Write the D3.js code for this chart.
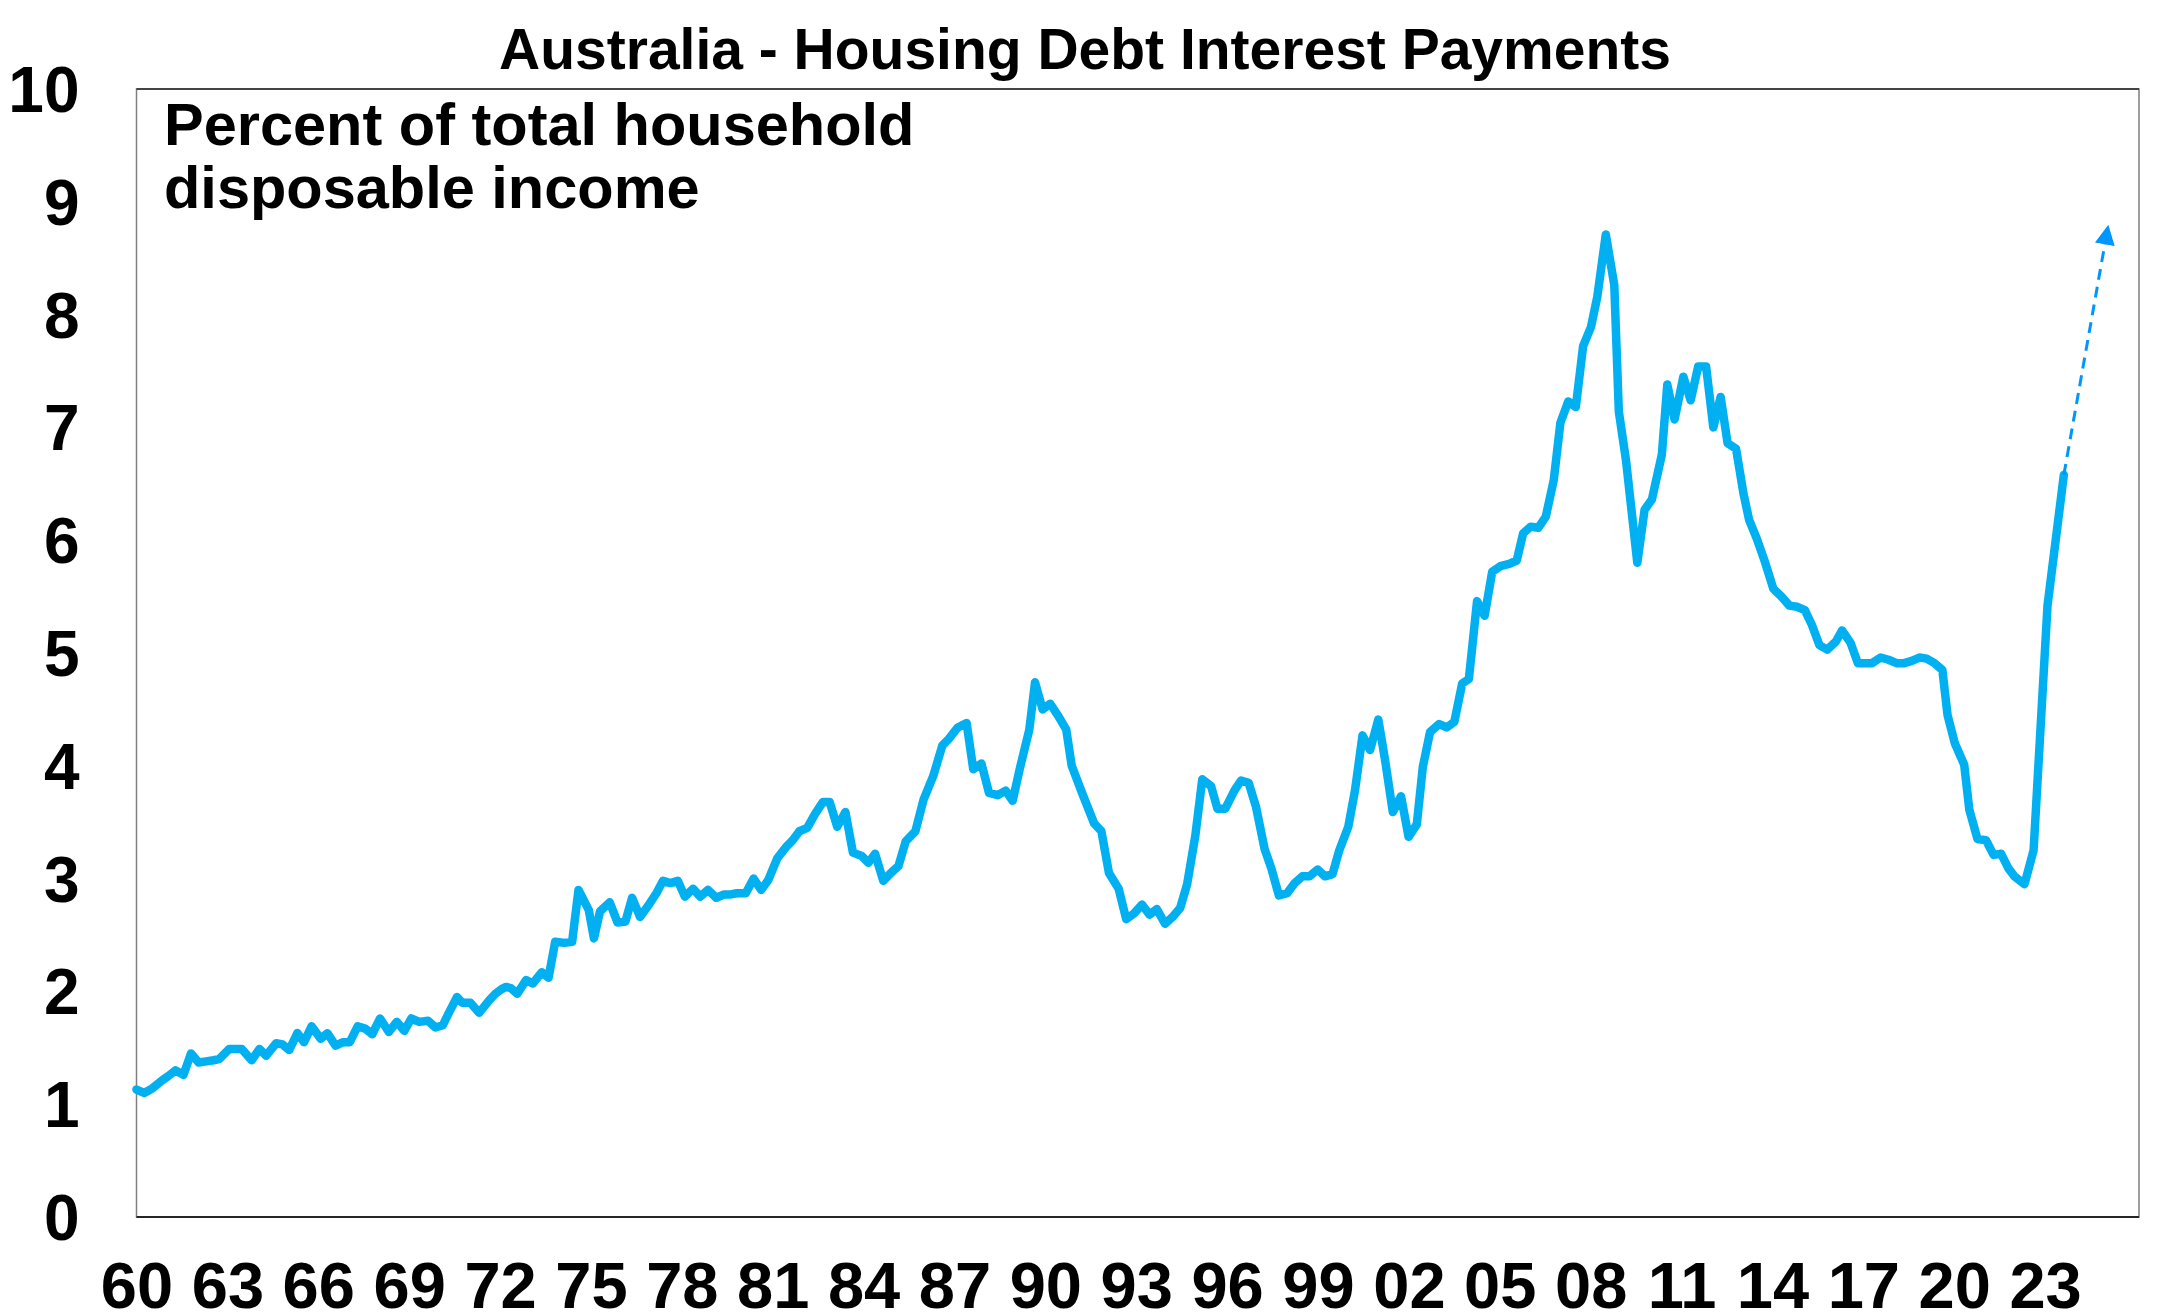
<!DOCTYPE html>
<html>
<head>
<meta charset="utf-8">
<script src="https://cdn.jsdelivr.net/npm/d3@7"></script>
<style>
  html, body { margin: 0; padding: 0; background: #ffffff; }
  svg { display: block; }
  text { font-family: "Liberation Sans", Arial, sans-serif; font-weight: bold; fill: #000; }
</style>
</head>
<body>
<svg id="chart" width="2173" height="1313"></svg>
<script>
// ---------- data ----------
const titleText = "Australia - Housing Debt Interest Payments";
const subtitleLines = ["Percent of total household", "disposable income"];

// fractional year (quarterly observations)
const years = [
  1960.00,1960.25,1960.52,1960.84,1961.05,1961.29,1961.55,1961.80,1962.05,1962.30,1962.54,1962.73,
  1963.06,1963.25,1963.47,1963.80,1964.06,1964.28,1964.61,1964.82,1965.04,1965.31,1965.53,1965.78,
  1966.08,1966.30,1966.57,1966.82,1967.04,1967.30,1967.55,1967.78,1968.04,1968.33,1968.59,1968.84,
  1969.07,1969.33,1969.62,1969.87,1970.11,1970.31,1970.58,1970.75,1971.02,1971.31,1971.64,1971.85,
  1972.05,1972.20,1972.35,1972.57,1972.86,1973.08,1973.38,1973.60,1973.82,1974.12,1974.38,1974.59,
  1974.93,1975.10,1975.30,1975.62,1975.88,1976.14,1976.36,1976.62,1976.94,1977.16,1977.38,1977.62,
  1977.87,1978.10,1978.37,1978.61,1978.86,1979.14,1979.40,1979.62,1979.81,1980.11,1980.37,1980.62,
  1980.86,1981.15,1981.44,1981.66,1981.88,1982.14,1982.39,1982.66,1982.88,1983.13,1983.40,1983.65,
  1983.94,1984.16,1984.38,1984.65,1984.90,1985.15,1985.39,1985.71,1985.98,1986.30,1986.60,1986.82,
  1987.11,1987.40,1987.62,1987.89,1988.14,1988.43,1988.69,1988.92,1989.17,1989.47,1989.66,1989.91,
  1990.16,1990.43,1990.69,1990.87,1991.24,1991.61,1991.85,1992.10,1992.42,1992.67,1992.92,1993.19,
  1993.44,1993.68,1993.95,1994.20,1994.45,1994.68,1994.95,1995.18,1995.47,1995.68,1995.94,1996.24,
  1996.46,1996.71,1996.95,1997.24,1997.46,1997.71,1997.98,1998.23,1998.48,1998.72,1998.99,1999.23,
  1999.48,1999.70,2000.00,2000.22,2000.47,2000.72,2000.99,2001.22,2001.47,2001.74,2001.99,2002.26,
  2002.46,2002.70,2003.00,2003.25,2003.50,2003.76,2003.98,2004.25,2004.50,2004.75,2005.02,2005.31,
  2005.56,2005.77,2006.02,2006.27,2006.52,2006.78,2007.00,2007.26,2007.51,2007.75,2008.01,2008.22,
  2008.50,2008.78,2008.93,2009.17,2009.54,2009.78,2010.02,2010.35,2010.53,2010.77,2011.06,2011.30,
  2011.55,2011.81,2012.05,2012.29,2012.52,2012.80,2013.04,2013.23,2013.49,2013.75,2014.03,2014.30,
  2014.56,2014.81,2015.07,2015.30,2015.55,2015.81,2016.09,2016.30,2016.58,2016.82,2017.05,2017.29,
  2017.57,2017.83,2018.10,2018.35,2018.60,2018.85,2019.09,2019.35,2019.61,2019.78,2020.02,2020.33,
  2020.50,2020.77,2021.05,2021.30,2021.55,2021.79,2021.99,2022.32,2022.62,2023.08,2023.62
];

// interest payments, % of household disposable income
const payments = [
  1.13,1.10,1.14,1.21,1.25,1.30,1.26,1.45,1.37,1.38,1.39,1.40,
  1.49,1.49,1.49,1.39,1.49,1.43,1.54,1.53,1.48,1.63,1.55,1.69,
  1.58,1.63,1.52,1.55,1.55,1.69,1.67,1.62,1.76,1.64,1.73,1.65,
  1.76,1.73,1.74,1.68,1.70,1.81,1.95,1.90,1.90,1.81,1.92,1.98,
  2.02,2.04,2.03,1.98,2.10,2.07,2.17,2.12,2.44,2.43,2.44,2.90,
  2.72,2.47,2.71,2.79,2.61,2.62,2.83,2.66,2.78,2.87,2.98,2.96,
  2.98,2.84,2.91,2.84,2.90,2.83,2.86,2.86,2.87,2.87,3.00,2.90,
  2.99,3.18,3.28,3.34,3.42,3.45,3.57,3.68,3.68,3.46,3.59,3.23,
  3.20,3.14,3.22,2.98,3.05,3.11,3.33,3.42,3.70,3.91,4.18,4.24,
  4.34,4.38,3.97,4.02,3.76,3.74,3.78,3.69,3.99,4.32,4.74,4.50,
  4.55,4.44,4.32,4.00,3.74,3.49,3.42,3.05,2.91,2.64,2.69,2.77,
  2.68,2.73,2.60,2.66,2.74,2.95,3.38,3.88,3.82,3.62,3.62,3.78,
  3.87,3.85,3.64,3.26,3.09,2.85,2.87,2.96,3.02,3.02,3.08,3.02,
  3.04,3.25,3.46,3.78,4.27,4.14,4.41,4.04,3.59,3.73,3.37,3.48,
  3.99,4.30,4.37,4.34,4.39,4.73,4.77,5.46,5.33,5.72,5.77,5.79,
  5.82,6.06,6.12,6.11,6.21,6.53,7.04,7.23,7.18,7.72,7.89,8.16,
  8.71,8.26,7.14,6.70,5.80,6.27,6.36,6.76,7.38,7.07,7.45,7.24,
  7.54,7.54,7.00,7.27,6.86,6.81,6.42,6.18,6.01,5.81,5.57,5.50,
  5.42,5.41,5.38,5.25,5.07,5.03,5.10,5.20,5.09,4.91,4.91,4.91,
  4.96,4.94,4.91,4.91,4.93,4.96,4.95,4.91,4.85,4.45,4.20,4.01,
  3.61,3.35,3.34,3.21,3.22,3.09,3.02,2.95,3.25,5.42,6.58
];

// projected path (dashed arrow)
const projYears = [2023.62, 2025.03];
const projValues = [6.58, 8.71];

const xTickYears = [1960,1963,1966,1969,1972,1975,1978,1981,1984,1987,1990,1993,1996,1999,2002,2005,2008,2011,2014,2017,2020,2023];
const yTicks = [0,1,2,3,4,5,6,7,8,9,10];

// ---------- layout ----------
const W = 2173, H = 1313;
const plot = { left: 136.5, right: 2139, top: 89, bottom: 1217 };

const svg = d3.select("#chart");
svg.append("rect").attr("width", W).attr("height", H).attr("fill", "#ffffff");

const x = d3.scaleLinear().domain([1960, 2026.1]).range([plot.left, plot.right]);
const y = d3.scaleLinear().domain([0, 10]).range([plot.bottom, plot.top]);

// frame
svg.append("rect")
  .attr("x", plot.left).attr("y", plot.top)
  .attr("width", plot.right - plot.left).attr("height", plot.bottom - plot.top)
  .attr("fill", "none").attr("stroke", "#7f7f7f").attr("stroke-width", 1.5);
svg.append("line")
  .attr("x1", plot.left).attr("x2", plot.right)
  .attr("y1", plot.top).attr("y2", plot.top)
  .attr("stroke", "#262626").attr("stroke-width", 1.5);
svg.append("line")
  .attr("x1", plot.left).attr("x2", plot.right)
  .attr("y1", plot.bottom).attr("y2", plot.bottom)
  .attr("stroke", "#262626").attr("stroke-width", 2);

// y axis
const yAxis = svg.append("g")
  .attr("transform", `translate(${plot.left},0)`)
  .call(d3.axisLeft(y).tickValues(yTicks).tickSize(0).tickPadding(57).tickFormat(d3.format("d")));
yAxis.select(".domain").remove();
yAxis.selectAll("text")
  .attr("font-family", "'Liberation Sans', Arial, sans-serif")
  .attr("font-weight", "bold")
  .attr("font-size", 64)
  .attr("fill", "#000")
  .attr("dy", "0.35em");

// x axis
const xAxis = svg.append("g")
  .attr("transform", `translate(0,${plot.bottom})`)
  .call(d3.axisBottom(x).tickValues(xTickYears).tickSize(0)
        .tickFormat(d => String(d % 100).padStart(2, "0")));
xAxis.select(".domain").remove();
xAxis.selectAll("text")
  .attr("font-family", "'Liberation Sans', Arial, sans-serif")
  .attr("font-weight", "bold")
  .attr("font-size", 65)
  .attr("fill", "#000")
  .attr("y", 91)
  .attr("dy", 0);

// main line
const series = years.map((yr, i) => ({ yr, v: payments[i] }));
const line = d3.line().x(d => x(d.yr)).y(d => y(d.v));
svg.append("path")
  .datum(series)
  .attr("fill", "none")
  .attr("stroke", "#00B0F0")
  .attr("stroke-width", 8.5)
  .attr("stroke-linejoin", "round")
  .attr("stroke-linecap", "round")
  .attr("d", line);

// projection arrow
const defs = svg.append("defs");
defs.append("marker")
  .attr("id", "arrowHead")
  .attr("viewBox", "0 0 10 10")
  .attr("refX", 5).attr("refY", 5)
  .attr("markerUnits", "userSpaceOnUse")
  .attr("markerWidth", 20).attr("markerHeight", 20)
  .attr("orient", "auto")
  .append("path")
  .attr("d", "M0,0 L10,5 L0,10 Z")
  .attr("fill", "#0096FF");

const proj = projYears.map((yr, i) => ({ yr, v: projValues[i] }));
svg.append("path")
  .datum(proj)
  .attr("fill", "none")
  .attr("stroke", "#0096FF")
  .attr("stroke-width", 3)
  .attr("stroke-dasharray", "11,7")
  .attr("marker-end", "url(#arrowHead)")
  .attr("d", d3.line().x(d => x(d.yr)).y(d => y(d.v)));

// title
svg.append("text")
  .attr("x", 1085).attr("y", 69)
  .attr("text-anchor", "middle")
  .attr("font-size", 57)
  .text(titleText);

// subtitle inside plot
svg.append("g").selectAll("text")
  .data(subtitleLines)
  .join("text")
  .attr("x", 164)
  .attr("y", (d, i) => 145 + i * 63)
  .attr("font-size", 59.5)
  .text(d => d);
</script>
</body>
</html>
